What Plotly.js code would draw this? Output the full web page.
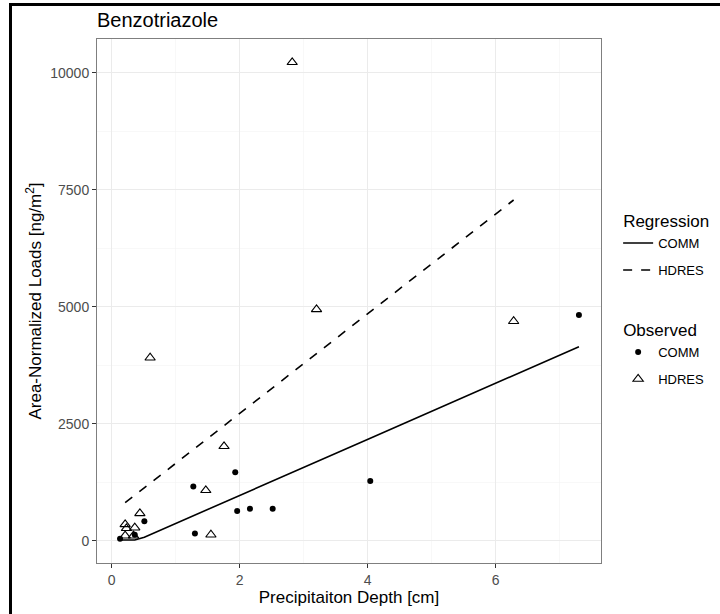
<!DOCTYPE html>
<html>
<head>
<meta charset="utf-8">
<script src="https://cdn.plot.ly/plotly-3.0.1.min.js"></script>
<style>
html,body{margin:0;padding:0;background:#fff;overflow:hidden;}
#chart{width:720px;height:614px;position:absolute;left:0;top:0;}
#frame{position:absolute;left:9px;top:3px;width:800px;height:700px;border-left:3px solid #000;border-top:3px solid #000;pointer-events:none;}
</style>
</head>
<body>
<div id="chart"></div>
<div id="frame"></div>
<script>
// Observed data
const commX = [0.13, 0.36, 0.51, 1.275, 1.30, 1.93, 1.96, 2.16, 2.515, 4.04, 7.30];
const commY = [43, 130, 414, 1160, 155, 1461, 635, 684, 684, 1276, 4823];
const hdresX = [0.21, 0.23, 0.21, 0.36, 0.34, 0.44, 0.60, 1.47, 1.55, 1.755, 2.82, 3.20, 6.28];
const hdresY = [350, 265, 107, 278, 107, 585, 3910, 1077, 128, 2017, 10222, 4944, 4690];
// Regression predictions
const regCommX = [0.13, 0.36, 0.51, 1.275, 1.30, 1.93, 1.96, 2.16, 2.515, 4.04, 7.30];
const regCommY = [15, 15, 75, 530, 545, 925, 940, 1060, 1275, 2190, 4145];
const regHdresX = [0.21, 0.44, 0.60, 1.47, 1.55, 1.755, 2.82, 3.20, 6.28];
const regHdresY = [812, 1057, 1228, 2157, 2243, 2461, 3597, 4003, 7280];

const xTicks = [0, 2, 4, 6];
const yTicks = [0, 2500, 5000, 7500, 10000];
const seriesNames = ['COMM', 'HDRES'];

const traces = [
  {x: regCommX, y: regCommY, mode: 'lines', name: seriesNames[0], legend: 'legend', legendgroup: 'r1',
   legendgrouptitle: {text: 'Regression', font: {size: 17, color: '#000'}},
   line: {color: '#000', width: 1.6, dash: 'solid'}},
  {x: regHdresX, y: regHdresY, mode: 'lines', name: seriesNames[1], legend: 'legend', legendgroup: 'r2',
   line: {color: '#000', width: 1.6, dash: 'dash'}},
  {x: commX, y: commY, mode: 'markers', name: seriesNames[0], legend: 'legend2', legendgroup: 'o1',
   legendgrouptitle: {text: 'Observed', font: {size: 17, color: '#000'}},
   marker: {symbol: 'circle', size: 6, color: '#000'}},
  {x: hdresX, y: hdresY, mode: 'markers', name: seriesNames[1], legend: 'legend2', legendgroup: 'o2',
   marker: {symbol: 'triangle-up-open', size: 9, color: '#000', line: {width: 1.1, color: '#000'}}}
];

const legendBase = {x: 1.034, xanchor: 'left', yanchor: 'top', tracegroupgap: 7,
  font: {size: 13, color: '#000'}, bgcolor: 'rgba(0,0,0,0)', itemwidth: 30};

const layout = {
  width: 720, height: 614,
  margin: {l: 97, r: 119, t: 39, b: 51, autoexpand: false},
  paper_bgcolor: '#fff', plot_bgcolor: '#fff',
  font: {family: 'Liberation Sans, Arial, sans-serif', color: '#000'},
  title: {text: 'Benzotriazole', x: 97/720, xanchor: 'left', y: 1 - 20/614, yanchor: 'middle',
          font: {size: 20, color: '#000'}},
  xaxis: {
    range: [-0.23, 7.645], tickvals: xTicks, ticktext: xTicks.map(String),
    showgrid: true, gridcolor: '#ebebeb', gridwidth: 1.1,
    minor: {dtick: 1, showgrid: true, gridcolor: '#f3f3f3', gridwidth: 0.6},
    zeroline: false, showline: true, mirror: true, linecolor: '#7f7f7f', linewidth: 1,
    ticks: 'outside', ticklen: 4, tickcolor: '#333', tickwidth: 1,
    tickfont: {size: 14, color: '#4d4d4d'},
    title: {text: 'Precipitaiton Depth [cm]', font: {size: 17, color: '#000'}, standoff: 4}
  },
  yaxis: {
    range: [-476, 10720], tickvals: yTicks, ticktext: yTicks.map(String),
    showgrid: true, gridcolor: '#ebebeb', gridwidth: 1.1,
    minor: {tickvals: [1250, 3750, 6250, 8750], showgrid: true, gridcolor: '#f3f3f3', gridwidth: 0.6},
    zeroline: false, showline: true, mirror: true, linecolor: '#7f7f7f', linewidth: 1,
    ticks: 'outside', ticklen: 4, tickcolor: '#333', tickwidth: 1,
    tickfont: {size: 14, color: '#4d4d4d'},
    title: {text: 'Area-Normalized Loads [ng/m<sup>2</sup>]', font: {size: 17, color: '#000'}, standoff: 4}
  },
  showlegend: true,
  legend: Object.assign({}, legendBase, {y: 0.687}),
  legend2: Object.assign({}, legendBase, {y: 0.479})
};

Plotly.newPlot('chart', traces, layout, {displayModeBar: false, staticPlot: true});
</script>
</body>
</html>
